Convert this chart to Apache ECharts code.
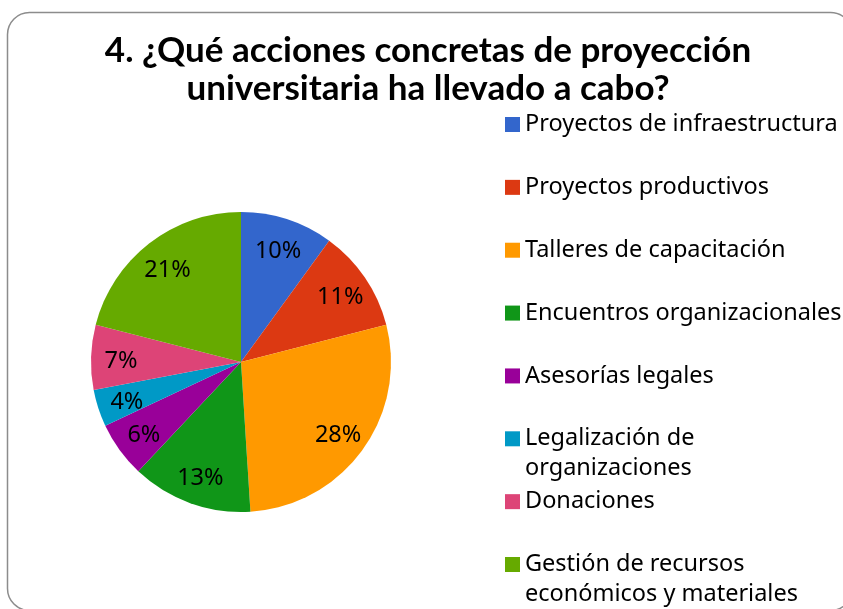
<!DOCTYPE html>
<html>
<head>
<meta charset="utf-8">
<script src="https://cdn.jsdelivr.net/npm/echarts@6/dist/echarts.min.js"></script>
<style>
  html, body { margin: 0; padding: 0; background: #fff; }
  #main { width: 843px; height: 609px; }
</style>
</head>
<body>
<div id="main"></div>
<script>
var categories = [
  'Proyectos de infraestructura',
  'Proyectos productivos',
  'Talleres de capacitación',
  'Encuentros organizacionales',
  'Asesorías legales',
  'Legalización de\norganizaciones',
  'Donaciones',
  'Gestión de recursos\neconómicos y materiales'
];
var percents = [10, 11, 28, 13, 6, 4, 7, 21];
var colors = ['#3366CC', '#DC3912', '#FF9900', '#109618', '#990099', '#0099C6', '#DD4477', '#66AA00'];

var FONT = '"Noto Sans", "Open Sans", sans-serif';
var TITLE_FONT = 'Lato, sans-serif';
var myChart = echarts.init(document.getElementById('main'));

var pieData = categories.map(function (name, i) {
  return { name: name, value: percents[i], itemStyle: { color: colors[i] } };
});

// one legend per item so the two-line names keep the Excel spacing
var legends = categories.map(function (name, i) {
  var twoLines = name.indexOf('\n') >= 0;
  var c = 124.5 + i * 62.86;
  return {
    orient: 'vertical',
    left: 505,
    top: twoLines ? c - 45 : c - 15,
    padding: 0,
    itemWidth: 15,
    itemHeight: 15,
    icon: 'rect',
    data: [name],
    selectedMode: false,
    // blank first line keeps the icon beside the first text line
    formatter: function (n) { return n.indexOf('\n') >= 0 ? '\n' + n : n; },
    textStyle: {
      fontFamily: FONT,
      fontSize: 23.5,
      color: '#000',
      lineHeight: 30
    }
  };
});

var option = {
  animation: false,
  title: {
    text: '4. ¿Qué acciones concretas de proyección\nuniversitaria ha llevado a cabo?',
    left: 428,
    textAlign: 'center',
    top: 32,
    padding: 0,
    textStyle: {
      fontFamily: TITLE_FONT,
      fontSize: 35,
      fontWeight: 'bold',
      color: '#000',
      lineHeight: 38
    }
  },
  legend: legends,
  graphic: [{
    type: 'rect',
    shape: { x: 7.5, y: 12.5, width: 845, height: 598, r: 22 },
    style: { fill: 'none', stroke: '#8c8c8c', lineWidth: 1.5 },
    silent: true,
    z: -1
  }],
  series: [
    {
      name: 'acciones',
      type: 'pie',
      center: [241, 362],
      radius: [0, 150],
      startAngle: 90,
      clockwise: true,
      label: { show: false },
      labelLine: { show: false },
      itemStyle: { borderWidth: 0 },
      data: pieData
    },
    {
      name: 'etiquetas',
      type: 'pie',
      center: [241, 365],
      radius: [84, 150],
      startAngle: 90,
      clockwise: true,
      silent: true,
      legendHoverLink: false,
      itemStyle: { color: 'rgba(0,0,0,0)', borderWidth: 0 },
      label: {
        show: true,
        position: 'inside',
        formatter: '{c}%',
        fontFamily: FONT,
        fontSize: 23.5,
        color: '#000'
      },
      labelLine: { show: false },
      data: percents.map(function (v, i) { return { name: 'l' + i, value: v }; })
    }
  ]
};
myChart.setOption(option);
</script>
</body>
</html>
